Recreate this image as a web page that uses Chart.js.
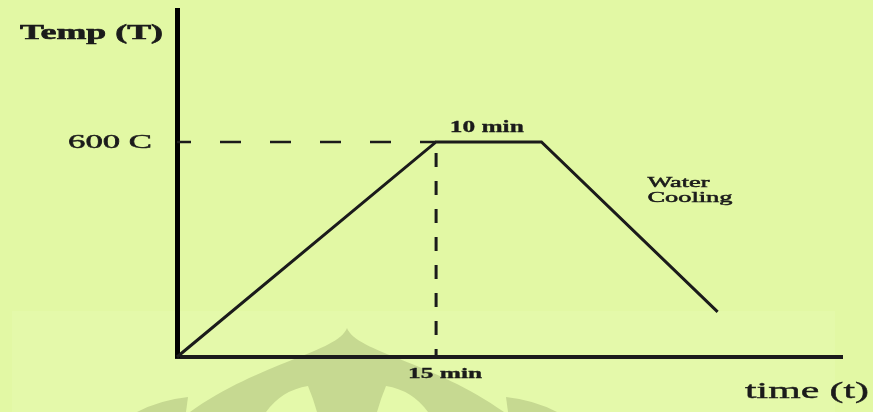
<!DOCTYPE html>
<html>
<head>
<meta charset="utf-8">
<script src="https://cdn.jsdelivr.net/npm/chart.js@4.4.1/dist/chart.umd.min.js"></script>
<style>
  html, body { margin: 0; padding: 0; background: rgb(226,248,164); }
  #wrap { width: 873px; height: 412px; }
</style>
</head>
<body>
<div id="wrap"><canvas id="c" width="873" height="412"></canvas></div>
<script>
// ---- data ----
const timeMin = [0, 15, 21.1, 31.3];      // x positions of the profile corners (min)
const tempC   = [0, 600, 600, 126];       // temperature at those corners (C)
const holdTemp = 600;                      // dashed reference temperature
const rampEnd  = 15;                       // dashed reference time
const xMax = 38.5;
const yMax = 968;
const yTickLabel = '600 C';
const xTickLabel = '15 min';
const holdLabel  = '10 min';
const coolLabel  = ['Water', 'Cooling'];
const yTitle = 'Temp (T)';
const xTitle = 'time (t)';

const INK = '#1b1b1b';
const SERIF = '"Liberation Serif", "DejaVu Serif", serif';

const profile = timeMin.map((t, i) => ({ x: t, y: tempC[i] }));
const hGuide = [{ x: 0, y: holdTemp }, { x: rampEnd, y: holdTemp }];
const vGuide = [{ x: rampEnd, y: holdTemp }, { x: rampEnd, y: 0 }];

const bgPlugin = {
  id: 'bg',
  beforeDraw(chart) {
    const ctx = chart.ctx;
    ctx.save();
    ctx.fillStyle = 'rgb(226,248,164)';
    ctx.fillRect(0, 0, chart.width, chart.height);
    // lighter band of the scanned page
    ctx.fillStyle = 'rgb(228,249,170)';
    ctx.fillRect(12, 311, 823, 101);
    // faint watermark emblem
    const cx = 347;
    ctx.fillStyle = 'rgb(198,217,145)';
    ctx.beginPath();
    ctx.moveTo(cx, 328);
    ctx.bezierCurveTo(cx - 9, 352, cx - 87, 362, cx - 157, 412);
    ctx.lineTo(cx + 157, 412);
    ctx.bezierCurveTo(cx + 87, 362, cx + 9, 352, cx, 328);
    ctx.fill();
    // side lobes
    ctx.beginPath();
    ctx.moveTo(137, 412);
    ctx.quadraticCurveTo(160, 400, 188, 397);
    ctx.lineTo(186, 412);
    ctx.fill();
    ctx.beginPath();
    ctx.moveTo(557, 412);
    ctx.quadraticCurveTo(534, 400, 506, 397);
    ctx.lineTo(508, 412);
    ctx.fill();
    // inner light arches
    ctx.fillStyle = 'rgb(228,249,170)';
    ctx.beginPath();
    ctx.moveTo(266, 412);
    ctx.quadraticCurveTo(282, 390, 308, 386);
    ctx.quadraticCurveTo(313, 398, 317, 412);
    ctx.fill();
    ctx.beginPath();
    ctx.moveTo(428, 412);
    ctx.quadraticCurveTo(412, 390, 386, 386);
    ctx.quadraticCurveTo(381, 398, 377, 412);
    ctx.fill();
    ctx.restore();
  }
};

function drawFit(ctx, text, font, x, align, baseY, width, stroke) {
  ctx.save();
  ctx.font = font;
  ctx.fillStyle = INK;
  ctx.strokeStyle = INK;
  ctx.textBaseline = 'alphabetic';
  const w = ctx.measureText(text).width;
  const left = align === 'left' ? x : align === 'right' ? x - width : x - width / 2;
  ctx.translate(left, baseY);
  ctx.scale(width / w, 1);
  ctx.fillText(text, 0, 0);
  if (stroke) { ctx.lineWidth = stroke; ctx.strokeText(text, 0, 0); }
  ctx.restore();
}

const textPlugin = {
  id: 'texts',
  afterDatasetsDraw(chart) {
    const ctx = chart.ctx;
    const xs = chart.scales.x, ys = chart.scales.y;
    const a = chart.chartArea;
    const yHold = ys.getPixelForValue(holdTemp);
    const xRamp = xs.getPixelForValue(rampEnd);
    const xHoldEnd = xs.getPixelForValue(timeMin[2]);
    drawFit(ctx, yTitle, 'bold 20px ' + SERIF, a.left - 14, 'right', a.top + 29, 143, 0.6);
    drawFit(ctx, yTickLabel, '19px ' + SERIF, a.left - 25, 'right', yHold + 6, 84, 0.5);
    drawFit(ctx, holdLabel, 'bold 16px ' + SERIF, (xRamp + xHoldEnd) / 2 - 2, 'center', yHold - 10, 74, 0.3);
    drawFit(ctx, coolLabel[0], '14px ' + SERIF, xHoldEnd + 106, 'left', yHold + 45, 62, 0.5);
    drawFit(ctx, coolLabel[1], '14px ' + SERIF, xHoldEnd + 106, 'left', yHold + 60, 85, 0.5);
    drawFit(ctx, xTickLabel, 'bold 15px ' + SERIF, xRamp + 9, 'center', a.bottom + 21, 74, 0.3);
    drawFit(ctx, xTitle, '23px ' + SERIF, a.right + 27, 'right', a.bottom + 41, 124, 0.4);
  }
};

new Chart(document.getElementById('c'), {
  type: 'line',
  data: {
    datasets: [
      { data: profile, borderColor: INK, borderWidth: 3, pointRadius: 0, tension: 0, clip: false },
      { data: hGuide, borderColor: INK, borderWidth: 2.5, borderDash: [21, 29], borderDashOffset: 7, pointRadius: 0, clip: false },
      { data: vGuide, borderColor: INK, borderWidth: 3, borderDash: [14, 14], borderDashOffset: 17, pointRadius: 0, clip: false }
    ]
  },
  options: {
    responsive: false,
    animation: false,
    devicePixelRatio: 1,
    layout: { padding: { left: 177, right: 31, top: 10, bottom: 55 } },
    plugins: { legend: { display: false }, tooltip: { enabled: false } },
    scales: {
      x: {
        type: 'linear', min: 0, max: xMax,
        grid: { display: false }, ticks: { display: false },
        border: { display: true, color: INK, width: 4 },
        afterFit(s) { s.height = 0; }
      },
      y: {
        type: 'linear', min: 0, max: yMax,
        grid: { display: false }, ticks: { display: false },
        border: { display: true, color: '#000', width: 5 },
        afterFit(s) { s.width = 0; }
      }
    }
  },
  plugins: [bgPlugin, textPlugin]
});
</script>
</body>
</html>
